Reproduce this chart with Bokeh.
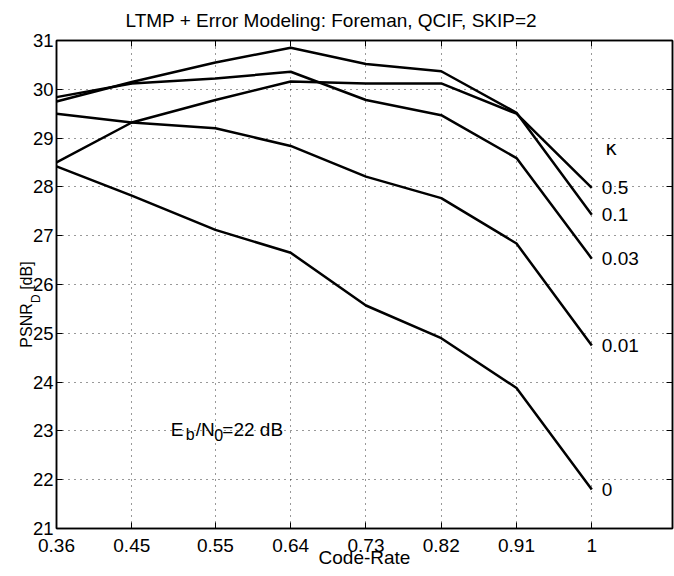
import math
from bokeh.plotting import figure
from bokeh.models import Range1d, FixedTicker, LinearAxis, Label, ColumnDataSource
from bokeh.core.properties import value
from bokeh.embed import file_html
from bokeh.resources import INLINE

# ---------------- data ----------------
code_rate = [0.36, 0.45, 0.55, 0.64, 0.73, 0.82, 0.91, 1.0]
code_rate_labels = ["0.36", "0.45", "0.55", "0.64", "0.73", "0.82", "0.91", "1"]
psnr_ticks = [21, 22, 23, 24, 25, 26, 27, 28, 29, 30, 31]

psnr_kappa_0 = [28.42, 27.82, 27.12, 26.65, 25.57, 24.90, 23.88, 21.80]
psnr_kappa_0_01 = [29.50, 29.32, 29.20, 28.84, 28.21, 27.77, 26.84, 24.75]
psnr_kappa_0_03 = [29.84, 30.12, 30.22, 30.36, 29.78, 29.47, 28.59, 26.53]
psnr_kappa_0_1 = [29.75, 30.15, 30.55, 30.85, 30.52, 30.37, 29.52, 27.43]
psnr_kappa_0_5 = [28.50, 29.32, 29.78, 30.16, 30.12, 30.12, 29.50, 27.98]
kappa_labels = ["0", "0.01", "0.03", "0.1", "0.5"]

title_text = "LTMP + Error Modeling: Foreman, QCIF, SKIP=2"
x_label = "Code-Rate"
NB = "\u00a0"
y_label = "PSNR" + NB * 3 + "[dB]" + NB * 9   # the subscript D is set separately
y_label_sub = "D"

series = [psnr_kappa_0, psnr_kappa_0_01, psnr_kappa_0_03, psnr_kappa_0_1, psnr_kappa_0_5]

FONT = "Liberation Sans"

# ---------------- figure ----------------
p = figure(width=674, height=576, output_backend="svg", toolbar_location=None,
           x_range=Range1d(0.36, 1.0965), y_range=Range1d(21, 31),
           min_border_left=55, min_border_right=2, min_border_top=40, min_border_bottom=48,
           background_fill_color="white", border_fill_color="white")

p.title.text = title_text
p.title.text_font = FONT
p.title.text_font_size = "19px"
p.title.text_font_style = "normal"
p.title.text_color = "black"
p.title.align = "left"
p.title.offset = 69
p.title.vertical_align = "top"
p.title.standoff = 15

p.outline_line_color = "black"
p.outline_line_width = 1.5

for ax in (p.xaxis[0], p.yaxis[0]):
    ax.axis_line_color = "black"
    ax.axis_line_width = 1.5
    ax.major_tick_line_color = "black"
    ax.major_tick_line_width = 1
    ax.major_tick_in = 6
    ax.major_tick_out = 0
    ax.minor_tick_line_color = None
    ax.major_label_text_font = FONT
    ax.major_label_text_color = "black"

p.xaxis.major_label_text_font_size = "19px"
p.xaxis.ticker = FixedTicker(ticks=code_rate)
p.xaxis.major_label_overrides = dict(zip(code_rate, code_rate_labels))
p.xaxis.major_label_standoff = 10
p.xaxis.axis_label = x_label
p.xaxis.axis_label_text_font = FONT
p.xaxis.axis_label_text_font_size = "19px"
p.xaxis.axis_label_text_font_style = "normal"
p.xaxis.axis_label_text_color = "black"
p.xaxis.axis_label_standoff = -8

p.yaxis.major_label_text_font_size = "18.5px"
p.yaxis.ticker = FixedTicker(ticks=psnr_ticks)
p.yaxis.major_label_standoff = 3
p.yaxis.axis_label = y_label
p.yaxis.axis_label_text_font = FONT
p.yaxis.axis_label_text_font_size = "16px"
p.yaxis.axis_label_text_font_style = "normal"
p.yaxis.axis_label_text_color = "black"
p.yaxis.axis_label_standoff = -5

p.xgrid.ticker = FixedTicker(ticks=code_rate)
p.ygrid.ticker = FixedTicker(ticks=psnr_ticks)
for g in (p.xgrid[0], p.ygrid[0]):
    g.grid_line_color = "black"
    g.grid_line_alpha = 0.8
    g.grid_line_dash = "1 5"
    g.grid_line_width = 1

top_axis = LinearAxis(ticker=FixedTicker(ticks=code_rate),
                      major_label_overrides={t: "" for t in code_rate},
                      major_label_text_font_size="0px", major_label_standoff=0,
                      major_tick_in=6, major_tick_out=0, minor_tick_line_color=None,
                      axis_line_color="black", axis_line_width=1.5)
right_axis = LinearAxis(ticker=FixedTicker(ticks=psnr_ticks),
                        major_label_overrides={t: "" for t in psnr_ticks},
                        major_label_text_font_size="0px", major_label_standoff=0,
                        major_tick_in=6, major_tick_out=0, minor_tick_line_color=None,
                        axis_line_color="black", axis_line_width=1.5)
p.add_layout(top_axis, "above")
p.add_layout(right_axis, "right")

# subscript D of the y-axis label (in the left panel so it is drawn outside the frame)
p.add_layout(Label(x=0.3352, y=25.62, text=y_label_sub, angle=math.pi / 2, text_font=FONT,
                   text_font_size="12px", text_color="black",
                   text_align="left", text_baseline="alphabetic"), "left")

# ---------------- curves ----------------
data = {"rate": code_rate}
for name, s in zip(kappa_labels, series):
    data["k_" + name] = s
src = ColumnDataSource(data)
for name in kappa_labels:
    p.line(x="rate", y="k_" + name, source=src, line_color="black", line_width=2.5)

# end-of-curve kappa labels
p.text(x=[code_rate[-1]] * len(series), y=[s[-1] for s in series], text=kappa_labels,
       x_offset=10, text_align="left", text_baseline="middle",
       text_font=value(FONT), text_font_size=value("19px"), text_color="black")

p.add_layout(Label(x=1.016, y=28.79, text="\u03ba", text_font="DejaVu Sans",
                   text_font_size="20px", text_color="black", text_baseline="alphabetic"))

# Eb/N0 annotation
ex, ey = 0.4967, 23.02
sub_dy = 0.10
def lab(text, dx, dy, size):
    p.add_layout(Label(x=ex, y=ey - dy, x_offset=dx, text=text, text_font=FONT,
                       text_font_size=size, text_color="black", text_baseline="alphabetic"))
lab("E", 0, 0, "19px")
lab("b", 15, sub_dy, "16px")
lab("/N", 25, 0, "19px")
lab("0", 43.5, sub_dy, "16px")
lab("=22 dB", 51.5, 0, "19px")

open("out.html", "w").write(file_html(p, INLINE))
